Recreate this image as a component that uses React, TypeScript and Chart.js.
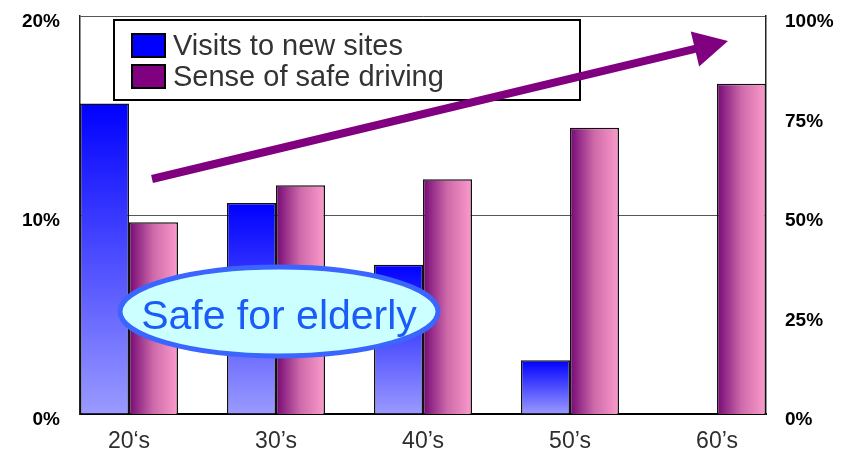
import React, { useEffect, useRef } from 'react';
import { Chart, registerables } from 'chart.js';

Chart.register(...registerables);

const categories = ['20‘s', '30’s', '40’s', '50’s', '60’s'];
const visitsNewSites = [15.6, 10.6, 7.5, 2.7, 0];
const senseSafeDriving = [48.2, 57.5, 59.0, 71.9, 83.0];
const leftTicks = [0, 10, 20];
const rightTicks = [0, 25, 50, 75, 100];
const seriesNames = ['Visits to new sites', 'Sense of safe driving'];
const calloutText = 'Safe for elderly';

const FONT = "'Liberation Sans', Arial, Helvetica, sans-serif";
const CAT_PCT = 2 / 3;

function blueFill(ctx: any) {
  const chart = ctx.chart;
  const ys = chart.scales && chart.scales.y;
  if (!ys || ctx.type !== 'data' || !ctx.parsed) return '#4040ff';
  const top = ys.getPixelForValue(ctx.parsed.y);
  const bottom = ys.getPixelForValue(0);
  if (!isFinite(top) || !isFinite(bottom) || Math.abs(bottom - top) < 1) return '#0000ff';
  const g = chart.ctx.createLinearGradient(0, top, 0, bottom);
  g.addColorStop(0, '#0000ff');
  g.addColorStop(1, '#9a9aff');
  return g;
}

function purpleFill(ctx: any) {
  const chart = ctx.chart;
  const xs = chart.scales && chart.scales.x;
  if (!xs || ctx.type !== 'data' || !ctx.parsed) return '#a0408a';
  const c = xs.getPixelForValue(ctx.parsed.x);
  const unit = xs.getPixelForValue(1) - xs.getPixelForValue(0);
  if (!isFinite(c) || !isFinite(unit) || unit <= 0) return '#a0408a';
  const w = (unit * CAT_PCT) / 2;
  const g = chart.ctx.createLinearGradient(c, 0, c + w, 0);
  g.addColorStop(0, '#740874');
  g.addColorStop(0.5, '#cf6aaa');
  g.addColorStop(1, '#fb9bcb');
  return g;
}

const overlayPlugin = {
  id: 'overlay',
  afterDraw(chart: any) {
    const c = chart.ctx;
    c.save();
    // legend box
    c.fillStyle = '#ffffff';
    c.fillRect(114, 20, 466, 80);
    c.lineWidth = 2;
    c.strokeStyle = '#000000';
    c.strokeRect(114, 20, 466, 80);
    const swatches = ['#0000ff', '#800080'];
    const baselines = [55, 86];
    seriesNames.forEach((name, i) => {
      c.fillStyle = swatches[i];
      c.fillRect(132, baselines[i] - 21, 33, 23);
      c.lineWidth = 2;
      c.strokeStyle = '#000';
      c.strokeRect(132, baselines[i] - 21, 33, 23);
      c.fillStyle = '#333333';
      c.font = `29px ${FONT}`;
      c.textAlign = 'left';
      c.textBaseline = 'alphabetic';
      c.fillText(name, 173, baselines[i]);
    });

    // arrow
    const sx = 152, sy = 179, tx = 728, ty = 41;
    const ang = Math.atan2(ty - sy, tx - sx);
    const headLen = 34, headHalf = 18, shaftHalf = 4;
    const bx = tx - headLen * Math.cos(ang), by = ty - headLen * Math.sin(ang);
    const nx = -Math.sin(ang), ny = Math.cos(ang);
    c.fillStyle = '#800080';
    c.beginPath();
    c.moveTo(sx + nx * shaftHalf, sy + ny * shaftHalf);
    c.lineTo(bx + nx * shaftHalf, by + ny * shaftHalf);
    c.lineTo(bx + nx * headHalf, by + ny * headHalf);
    c.lineTo(tx, ty);
    c.lineTo(bx - nx * headHalf, by - ny * headHalf);
    c.lineTo(bx - nx * shaftHalf, by - ny * shaftHalf);
    c.lineTo(sx - nx * shaftHalf, sy - ny * shaftHalf);
    c.closePath();
    c.fill();

    // callout ellipse
    c.beginPath();
    c.ellipse(279, 311.5, 159, 44.5, 0, 0, Math.PI * 2);
    c.fillStyle = '#ccffff';
    c.fill();
    c.lineWidth = 5;
    c.strokeStyle = '#3a66ff';
    c.stroke();
    c.fillStyle = '#1a5cf5';
    c.font = `41px ${FONT}`;
    c.textAlign = 'center';
    c.textBaseline = 'alphabetic';
    c.fillText(calloutText, 279, 329);
    c.restore();
  },
};

export default function App() {
  const ref = useRef<HTMLCanvasElement | null>(null);

  useEffect(() => {
    if (!ref.current) return;
    Chart.defaults.font.family = FONT;
    const chart = new Chart(ref.current, {
      type: 'bar',
      data: {
        datasets: [
          {
            label: seriesNames[0],
            data: visitsNewSites.map((v, i) => ({ x: i, y: v })),
            yAxisID: 'y',
            backgroundColor: blueFill,
            borderColor: '#111111',
            borderWidth: 1.5,
            categoryPercentage: CAT_PCT,
            barPercentage: 1,
          },
          {
            label: seriesNames[1],
            data: senseSafeDriving.map((v, i) => ({ x: i, y: v })),
            yAxisID: 'y1',
            backgroundColor: purpleFill,
            borderColor: '#111111',
            borderWidth: 1.5,
            categoryPercentage: CAT_PCT,
            barPercentage: 1,
          },
        ],
      },
      options: {
        animation: false,
        responsive: false,
        events: [],
        layout: { padding: { top: 16, left: 0, right: 0, bottom: 0 } },
        plugins: {
          legend: { display: false },
          tooltip: { enabled: false },
        },
        scales: {
          x: {
            type: 'linear',
            offset: false,
            min: -1 / 3,
            max: categories.length - 1 + 1 / 3,
            afterBuildTicks: (s: any) => {
              s.ticks = categories.map((_, i) => ({ value: i }));
            },
            afterFit: (s: any) => {
              s.height = 38;
              s.paddingLeft = 0;
              s.paddingRight = 0;
            },
            grid: { display: false, drawTicks: false },
            border: { display: true, color: '#000', width: 2 },
            ticks: {
              callback: (v: any) => categories[Math.round(v)] ?? '',
              color: '#2e2e2e',
              font: { size: 23, family: FONT },
              padding: 14,
              maxRotation: 0,
              autoSkip: false,
            },
          },
          y: {
            position: 'left',
            min: 0,
            max: 20,
            afterBuildTicks: (s: any) => {
              s.ticks = leftTicks.map((v) => ({ value: v }));
            },
            afterFit: (s: any) => {
              s.width = 80;
              s.paddingTop = 0;
              s.paddingBottom = 0;
            },
            grid: {
              drawTicks: false,
              color: (ctx: any) => (ctx.tick && ctx.tick.value === 0 ? 'rgba(0,0,0,0)' : '#555555'),
              lineWidth: 1,
            },
            border: { display: true, color: '#222', width: 1.5 },
            ticks: {
              callback: (v: any) => ['', v + '%'],
              color: '#000',
              font: { size: 19, weight: 'bold', family: FONT, lineHeight: 0.65 },
              padding: 20,
            },
          },
          y1: {
            position: 'right',
            min: 0,
            max: 100,
            afterBuildTicks: (s: any) => {
              s.ticks = rightTicks.map((v) => ({ value: v }));
            },
            afterFit: (s: any) => {
              s.width = 83;
              s.paddingTop = 0;
              s.paddingBottom = 0;
            },
            grid: { display: false, drawTicks: false },
            border: { display: true, color: '#222', width: 1.5 },
            ticks: {
              callback: (v: any) => ['', v + '%'],
              color: '#000',
              font: { size: 19, weight: 'bold', family: FONT, lineHeight: 0.65 },
              padding: 19,
            },
          },
        },
      },
      plugins: [overlayPlugin],
    } as any);
    return () => chart.destroy();
  }, []);

  return (
    <div style={{ position: 'absolute', left: 0, top: 0, width: 849, height: 452, background: '#fff' }}>
      <canvas ref={ref} width={849} height={452} style={{ display: 'block' }} />
    </div>
  );
}
